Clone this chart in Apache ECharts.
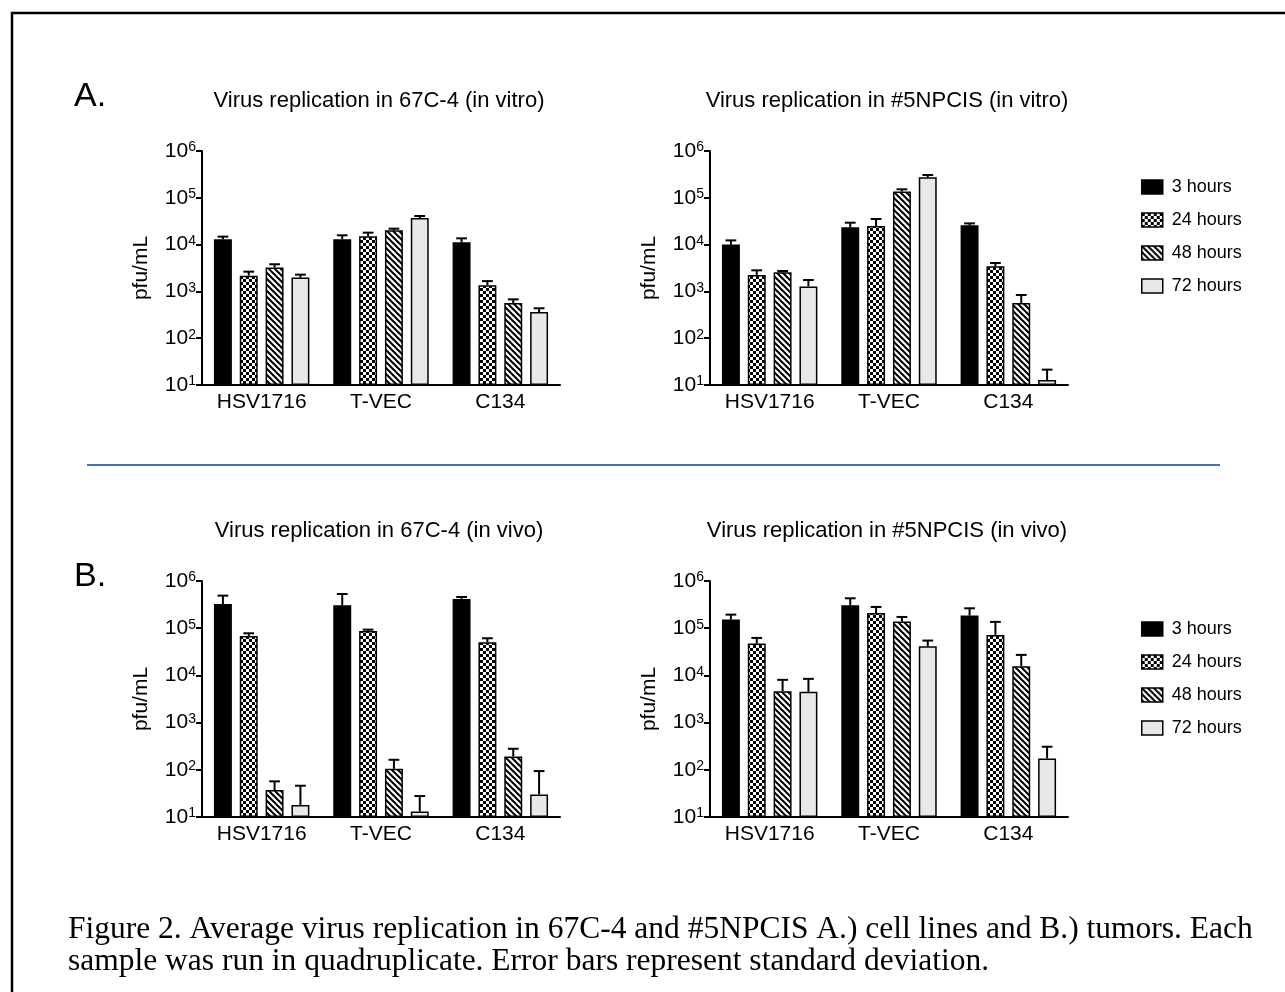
<!DOCTYPE html>
<html>
<head>
<meta charset="utf-8">
<title>Virus replication</title>
<script src="https://cdn.jsdelivr.net/npm/echarts@6/dist/echarts.min.js"></script>
<style>
  html, body { margin: 0; padding: 0; background: #fff; }
  #chart { width: 1285px; height: 992px; }
</style>
</head>
<body>
<div id="chart"></div>
<script>
const categories = ['HSV1716', 'T-VEC', 'C134'];
const timepoints = ['3 hours', '24 hours', '48 hours', '72 hours'];
const yTicks = [10, 100, 1000, 10000, 100000, 1000000];

// rows = time point (3, 24, 48, 72 h), columns = category
const vitro67cMean = [
  [13000, 13000, 11200],
  [2170, 15100, 1350],
  [3230, 20200, 565],
  [1970, 37000, 363]
];
const vitro67cSd = [
  [1800, 2800, 2400],
  [470, 2900, 310],
  [570, 1700, 111],
  [310, 3800, 73]
];
const vitro5npMean = [
  [10000, 23400, 25800],
  [2240, 25000, 3430],
  [2550, 137000, 565],
  [1280, 274000, 12.8]
];
const vitro5npSd = [
  [2300, 6000, 2600],
  [580, 10200, 620],
  [180, 15000, 273],
  [470, 33000, 8.5]
];
const vivo67cMean = [
  [326000, 305000, 416000],
  [68600, 87500, 50400],
  [37.3, 105, 192],
  [17.9, 13, 30.1]
];
const vivo67cSd = [
  [164000, 226000, 42000],
  [9500, 5800, 10800],
  [19.6, 58, 87],
  [28.1, 14.8, 63.9]
];
const vivo5npMean = [
  [152000, 305000, 185000],
  [47200, 210000, 72100],
  [4630, 138000, 15700],
  [4490, 41500, 174]
];
const vivo5npSd = [
  [42000, 125000, 79000],
  [15000, 72000, 63900],
  [3420, 35000, 11500],
  [3960, 13200, 134]
];

const sans = '"Liberation Sans", Arial, Helvetica, sans-serif';
const serif = '"Liberation Serif", "Times New Roman", serif';

function makePattern(kind) {
  const n = 6;
  const c = document.createElement('canvas');
  c.width = n;
  c.height = n;
  const g = c.getContext('2d');
  g.fillStyle = '#fff';
  g.fillRect(0, 0, n, n);
  g.fillStyle = '#000';
  g.strokeStyle = '#000';
  if (kind === 'checker') {
    g.fillRect(0, 0, n / 2, n / 2);
    g.fillRect(n / 2, n / 2, n / 2, n / 2);
  } else {
    g.lineWidth = 2;
    g.beginPath();
    g.moveTo(-1, -1); g.lineTo(n + 1, n + 1);
    g.moveTo(-1, n - 1); g.lineTo(1, n + 1);
    g.moveTo(n - 1, -1); g.lineTo(n + 1, 1);
    g.stroke();
  }
  return c;
}

const fills = [
  '#000',
  { image: makePattern('checker'), repeat: 'repeat' },
  { image: makePattern('hatch'), repeat: 'repeat' },
  '#e8e8e8'
];

const panels = [
  { title: 'Virus replication in 67C-4 (in vitro)', mean: vitro67cMean, sd: vitro67cSd, left: 202, top: 151, height: 234 },
  { title: 'Virus replication in #5NPCIS (in vitro)', mean: vitro5npMean, sd: vitro5npSd, left: 710, top: 151, height: 234 },
  { title: 'Virus replication in 67C-4 (in vivo)', mean: vivo67cMean, sd: vivo67cSd, left: 202, top: 581, height: 236 },
  { title: 'Virus replication in #5NPCIS (in vivo)', mean: vivo5npMean, sd: vivo5npSd, left: 710, top: 581, height: 236 }
];
const plotWidth = 358;
const barGap = 0.44;
const catGap = 0.2;

function errorSeries(p, mean, sd) {
  const data = [];
  mean.forEach((row, k) => row.forEach((m, i) => data.push([i, m, m + sd[k][i], k])));
  return {
    type: 'custom',
    xAxisIndex: p,
    yAxisIndex: p,
    silent: true,
    z: 3,
    encode: { x: 0, y: [1, 2] },
    data: data,
    renderItem(params, api) {
      const i = api.value(0);
      const k = api.value(3);
      const band = api.size([1, 10])[0];
      const w = band * (1 - catGap) / (4 + 3 * barGap);
      const base = api.coord([i, api.value(1)]);
      const top = api.coord([i, api.value(2)]);
      const x = base[0] + (k - 1.5) * w * (1 + barGap);
      const cap = w * 0.3;
      const st = { stroke: '#000', lineWidth: 2 };
      return {
        type: 'group',
        children: [
          { type: 'line', shape: { x1: x, y1: base[1], x2: x, y2: top[1] }, style: st },
          { type: 'line', shape: { x1: x - cap, y1: top[1], x2: x + cap, y2: top[1] }, style: st }
        ]
      };
    }
  };
}

const grids = [], xAxes = [], yAxes = [], series = [];
panels.forEach((pn, p) => {
  grids.push({ left: pn.left, top: pn.top, width: plotWidth, height: pn.height });
  xAxes.push({
    type: 'category',
    gridIndex: p,
    data: categories,
    axisLine: { onZero: false, lineStyle: { color: '#000', width: 2 } },
    axisTick: { alignWithLabel: true, length: 6, lineStyle: { color: '#000', width: 2 } },
    axisLabel: { color: '#000', fontSize: 21, fontFamily: sans, margin: 7 }
  });
  yAxes.push({
    type: 'log',
    logBase: 10,
    gridIndex: p,
    min: yTicks[0],
    max: yTicks[yTicks.length - 1],
    startValue: yTicks[0],
    splitNumber: yTicks.length - 1,
    name: 'pfu/mL',
    nameLocation: 'middle',
    nameGap: 50,
    nameTextStyle: { color: '#000', fontSize: 21, fontFamily: sans },
    axisLine: { show: true, lineStyle: { color: '#000', width: 2 } },
    axisTick: { show: true, length: 6, lineStyle: { color: '#000', width: 2 } },
    splitLine: { show: false },
    axisLabel: {
      color: '#000',
      fontSize: 21,
      fontFamily: sans,
      margin: 6,
      formatter: v => '10{sup|' + Math.round(Math.log10(v)) + '}',
      rich: { sup: { fontSize: 14, fontFamily: sans, color: '#000', verticalAlign: 'top', lineHeight: 14, padding: [0, 0, 8, 0] } }
    }
  });
  timepoints.forEach((name, k) => {
    series.push({
      type: 'bar',
      name: name,
      xAxisIndex: p,
      yAxisIndex: p,
      data: pn.mean[k],
      barGap: barGap * 100 + '%',
      barCategoryGap: catGap * 100 + '%',
      itemStyle: { color: fills[k], borderColor: '#000', borderWidth: 1.5 }
    });
  });
  series.push(errorSeries(p, pn.mean, pn.sd));
});

function legendAt(top) {
  return {
    data: timepoints,
    orient: 'vertical',
    left: 1141,
    top: top,
    padding: 0,
    icon: 'rect',
    itemWidth: 21,
    itemHeight: 14,
    itemGap: 15,
    selectedMode: false,
    itemStyle: { borderColor: '#000', borderWidth: 1.5 },
    textStyle: { color: '#000', fontSize: 18, fontFamily: sans, lineHeight: 14, padding: [0, 0, 0, 4] }
  };
}

const titleTexts = panels.map(pn => ({
  type: 'text',
  x: pn.left + plotWidth / 2 - 2,
  y: pn.top - 50,
  style: { text: pn.title, fill: '#000', font: '22px ' + sans, align: 'center', verticalAlign: 'middle' }
}));

const chart = echarts.init(document.getElementById('chart'));
chart.setOption({
  animation: false,
  backgroundColor: '#fff',
  grid: grids,
  xAxis: xAxes,
  yAxis: yAxes,
  legend: [legendAt(178), legendAt(620)],
  series: series,
  graphic: [
    { type: 'rect', shape: { x: 12, y: 13, width: 1300, height: 1000 }, style: { fill: 'transparent', stroke: '#000', lineWidth: 2.5 } },
    { type: 'line', shape: { x1: 87, y1: 465, x2: 1220, y2: 465 }, style: { stroke: '#4472c4', lineWidth: 2 } },
    { type: 'text', x: 74, y: 97, style: { text: 'A.', fill: '#000', font: '34px ' + sans, verticalAlign: 'middle' } },
    { type: 'text', x: 74, y: 577, style: { text: 'B.', fill: '#000', font: '34px ' + sans, verticalAlign: 'middle' } },
    ...titleTexts,
    {
      type: 'text', x: 68, y: 914,
      style: {
        text: 'Figure 2. Average virus replication in 67C-4 and #5NPCIS A.) cell lines and B.) tumors. Each\nsample was run in quadruplicate. Error bars represent standard deviation.',
        fill: '#000', font: '31.5px ' + serif, lineHeight: 32, verticalAlign: 'top'
      }
    }
  ]
});
</script>
</body>
</html>
